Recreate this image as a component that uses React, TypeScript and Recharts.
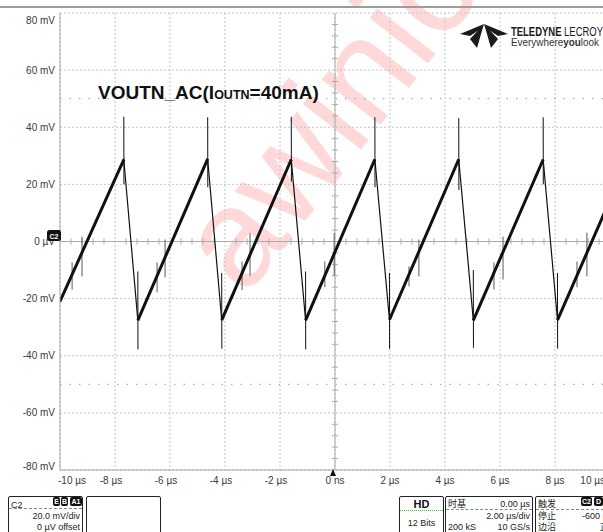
import React from "react";
import { LineChart, Line, XAxis, YAxis, CartesianGrid, ReferenceLine } from "recharts";

const X_TICKS = [-10, -8, -6, -4, -2, 0, 2, 4, 6, 8, 10];
const X_LABELS = ["-10 µs", "-8 µs", "-6 µs", "-4 µs", "-2 µs", "0 ns", "2 µs", "4 µs", "6 µs", "8 µs", "10 µs"];
const Y_TICKS = [80, 60, 40, 20, 0, -20, -40, -60, -80];
const Y_LABELS = ["80 mV", "60 mV", "40 mV", "20 mV", "0 µV", "-20 mV", "-40 mV", "-60 mV", "-80 mV"];

// sawtooth corners (µs, mV)
const startT = -10;
const startMv = -21;
const endT = 10;
const endMv = 14.5;
const peakT = [-7.68, -4.63, -1.59, 1.45, 4.5, 7.57];
const peakMv = [28.7, 28.9, 28.7, 28.8, 28.8, 28.7];
const troughT = [-7.17, -4.12, -1.07, 1.98, 5.03, 8.09];
const troughMv = [-27.6, -27.5, -27.6, -27.4, -27.6, -27.5];

// ringing at the corners
const peakSpikeHi = [43.7, 43.5, 43.7, 43.5, 43.2, 43.5];
const peakSpikeLo = [20, 19, 21, 19, 18, 20];
const troughSpikeHi = [-10.5, -11, -10.5, -11, -10, -11];
const troughSpikeLo = [-37.8, -37.5, -37.8, -37.6, -37.2, -37.5];

// short glitches on the ramps
const glitchT = [-9.56, -9.2, -6.47, -6.18, -3.38, -3.09, -0.37, -0.03, 2.69, 3.05, 5.78, 6.11, 8.8, 9.16];
const glitchHi = [-7.3, 1.7, -7.3, 0.7, -7, 3, -7, 3, -8.7, 0.7, -7.3, 1.7, -7, 3.1];
const glitchLo = [-16.8, -12.2, -17.8, -12.6, -17, -12, -16, -12, -15.7, -12.2, -16.8, -13.3, -16, -12.2];

type Pt = { t: number; v: number | null };

const wave: Pt[] = [{ t: startT, v: startMv }];
peakT.forEach((t, i) => {
  wave.push({ t, v: peakMv[i] });
  wave.push({ t: troughT[i], v: troughMv[i] });
});
wave.push({ t: endT, v: endMv });

// rising edges only, drawn thicker (noise band)
const ramps: Pt[] = [{ t: startT, v: startMv }];
peakT.forEach((t, i) => {
  ramps.push({ t, v: peakMv[i] });
  ramps.push({ t: t + 0.01, v: null });
  ramps.push({ t: troughT[i], v: troughMv[i] });
});
ramps.push({ t: endT, v: endMv });

const spikes: Pt[] = [];
peakT.forEach((t, i) => {
  spikes.push({ t, v: peakSpikeHi[i] }, { t: t + 0.005, v: peakSpikeLo[i] }, { t: t + 0.01, v: null });
  const tt = troughT[i];
  spikes.push({ t: tt, v: troughSpikeHi[i] }, { t: tt + 0.005, v: troughSpikeLo[i] }, { t: tt + 0.01, v: null });
});

const glitches: Pt[] = [];
glitchT.forEach((t, i) => {
  glitches.push({ t, v: glitchHi[i] }, { t: t + 0.001, v: glitchLo[i] }, { t: t + 0.002, v: null });
});

// center-cross minor ticks
const minorX: number[] = [];
for (let k = -25; k <= 25; k++) if (k % 5 !== 0) minorX.push(k * 0.4);
const minorY: number[] = [];
for (let k = -20; k <= 20; k++) if (k % 5 !== 0) minorY.push(k * 4);

const FONT = "'Liberation Sans', Arial, sans-serif";
const CJK = "'Liberation Sans', 'Noto Sans CJK SC', sans-serif";

const XTick = (p: any) => {
  const v = p.payload.value;
  const i = X_TICKS.indexOf(v);
  let anchor = "middle";
  let dx = 0;
  if (i === 0) {
    anchor = "start";
    dx = -2;
  } else if (i === X_TICKS.length - 1) {
    anchor = "end";
    dx = -5;
  } else if (v < 0) dx = -4;
  return (
    <text x={p.x + dx} y={p.y + 14} textAnchor={anchor} fontSize={10} fill="#3a3a3a" fontFamily={FONT}>
      {X_LABELS[i]}
    </text>
  );
};

const YTick = (p: any) => {
  const v = p.payload.value;
  const i = Y_TICKS.indexOf(v);
  const dy = v === 80 ? 7 : v === -80 ? -4 : 0;
  return (
    <text x={p.x} y={p.y + dy + 3.5} textAnchor="end" fontSize={10} fill="#3a3a3a" fontFamily={FONT}>
      {Y_LABELS[i]}
    </text>
  );
};

const box = (left: number, width: number): React.CSSProperties => ({
  position: "absolute",
  left,
  top: 496,
  width,
  height: 40,
  border: "1px solid #222",
  borderRadius: 2,
  boxSizing: "border-box",
  background: "#fff",
});

const badge = (left: number, w: number, text: string, top = 497) => (
  <div
    style={{
      position: "absolute",
      left,
      top,
      width: w,
      height: 9,
      background: "#111",
      color: "#fff",
      borderRadius: 2,
      fontSize: 7,
      lineHeight: "9px",
      textAlign: "center",
      fontWeight: 700,
    }}
  >
    {text}
  </div>
);

const txt = (left: number, top: number, s: string, extra: React.CSSProperties = {}) => (
  <div style={{ position: "absolute", left, top, fontSize: 9, lineHeight: "10px", color: "#222", whiteSpace: "nowrap", ...extra }}>
    {s}
  </div>
);

export default function App() {
  return (
    <div
      style={{
        position: "absolute",
        left: 0,
        top: 0,
        width: 603,
        height: 532,
        overflow: "hidden",
        background: "#fff",
        fontFamily: CJK,
      }}
    >
      {/* watermark */}
      <svg width={603} height={532} style={{ position: "absolute", left: 0, top: 0 }}>
        <text
          x={245}
          y={298}
          transform="rotate(-52 245 298)"
          fontSize={140}
          fill="#ff2020"
          fillOpacity={0.17}
          fontFamily={FONT}
        >
          awinic
        </text>
      </svg>

      <div style={{ position: "absolute", left: 0, top: 0 }}>
        <LineChart width={620} height={532} margin={{ top: 13, right: 10, bottom: 32, left: 0 }}>
          <CartesianGrid stroke="#c4c4c4" strokeDasharray="2 2" />
          <XAxis
            type="number"
            dataKey="t"
            domain={[-10, 10]}
            ticks={X_TICKS}
            allowDataOverflow
            height={30}
            tickSize={0}
            tickMargin={0}
            axisLine={{ stroke: "#a8a8a8" }}
            tick={<XTick />}
          />
          <YAxis
            type="number"
            domain={[-80, 80]}
            ticks={Y_TICKS}
            allowDataOverflow
            width={60}
            tickSize={0}
            tickMargin={5}
            axisLine={{ stroke: "#a8a8a8" }}
            tick={<YTick />}
          />
          <ReferenceLine y={50} stroke="#9a9a9a" strokeDasharray="1.5 8" />
          <ReferenceLine y={-50} stroke="#9a9a9a" strokeDasharray="1.5 8" />
          <ReferenceLine y={0} stroke="#ababab" />
          <ReferenceLine x={0} stroke="#ababab" />
          {minorX.map((t) => (
            <ReferenceLine key={"mx" + t} stroke="#ababab" segment={[{ x: t, y: -1.1 }, { x: t, y: 1.1 }]} />
          ))}
          {minorY.map((v) => (
            <ReferenceLine key={"my" + v} stroke="#ababab" segment={[{ x: -0.11, y: v }, { x: 0.11, y: v }]} />
          ))}
          <Line data={glitches} dataKey="v" type="linear" stroke="#5a5a5a" strokeWidth={1} dot={false} isAnimationActive={false} />
          <Line data={wave} dataKey="v" type="linear" stroke="#111" strokeWidth={1.2} dot={false} isAnimationActive={false} />
          <Line data={ramps} dataKey="v" type="linear" stroke="#111" strokeWidth={3} dot={false} isAnimationActive={false} />
          <Line data={spikes} dataKey="v" type="linear" stroke="#111" strokeWidth={1} dot={false} isAnimationActive={false} />
        </LineChart>
      </div>

      {/* frame, title, logo, markers */}
      <svg width={603} height={532} style={{ position: "absolute", left: 0, top: 0 }}>
        <rect x={0} y={6} width={603} height={2} fill="#9c9c9c" />
        <text x={98} y={98.5} fontSize={19} fontWeight={700} fill="#111" fontFamily={FONT}>
          VOUTN_AC(I
          <tspan fontSize={12.5}>OUTN</tspan>
          =40mA)
        </text>
        <g fill="#1a1a1a">
          <polygon points="484,24 460,34 470,36 479,30" />
          <polygon points="484,24 470,39 477,48 481,34" />
          <polygon points="484,24 498,39 491,48 487,34" />
          <polygon points="484,24 508,34 498,36 489,30" />
        </g>
        <text x={511} y={36} fontSize={12} fill="#1a1a1a" fontFamily={FONT} textLength={92} lengthAdjust="spacingAndGlyphs">
          <tspan fontWeight={700}>TELEDYNE</tspan> LECROY
        </text>
        <text x={511} y={46} fontSize={10.5} fill="#333" fontFamily={FONT} textLength={88} lengthAdjust="spacingAndGlyphs">
          Everywhere<tspan fontWeight={700}>you</tspan>look
        </text>
        <polygon points="333,469 330,476 336,476" fill="#111" />
        <rect x={47} y={230} width={14} height={11} rx={2.5} fill="#111" />
        <text x={54} y={238.5} fontSize={7} fontWeight={700} fill="#fff" textAnchor="middle" fontFamily={FONT}>
          C2
        </text>
      </svg>

      {/* bottom info panel */}
      <div style={box(8, 75)}>
        {txt(2, 3, "C2")}
        <div style={{ position: "absolute", left: 0, right: 0, top: 11, borderTop: "1px dashed #888" }} />
        {txt(0, 14, "20.0 mV/div", { right: 2, left: "auto" })}
        {txt(0, 25, "0 µV offset", { right: 2, left: "auto" })}
      </div>
      {badge(53, 7, "E")}
      {badge(61, 7, "B")}
      {badge(70, 12, "A1")}
      <div style={box(86, 75)} />

      <div style={box(399, 45)}>
        <div style={{ position: "absolute", left: 0, right: 0, top: 1, textAlign: "center", fontSize: 11, fontWeight: 700, color: "#111" }}>HD</div>
        <div style={{ position: "absolute", left: 0, right: 0, top: 13, borderTop: "1px dotted #3c3" }} />
        <div style={{ position: "absolute", left: 0, right: 0, top: 21, textAlign: "center", fontSize: 9, color: "#222" }}>12 Bits</div>
      </div>
      <div style={box(445, 88)}>
        {txt(2, 2, "时基")}
        {txt(0, 2, "0.00 µs", { right: 2, left: "auto" })}
        <div style={{ position: "absolute", left: 0, right: 0, top: 12, borderTop: "1px dashed #888" }} />
        {txt(0, 14, "2.00 µs/div", { right: 2, left: "auto" })}
        {txt(2, 25, "200 kS")}
        {txt(0, 25, "10 GS/s", { right: 2, left: "auto" })}
      </div>
      <div style={box(535, 80)}>
        {txt(2, 2, "触发")}
        <div style={{ position: "absolute", left: 0, right: 0, top: 12, borderTop: "1px dashed #888" }} />
        {txt(2, 14, "停止")}
        {txt(46, 14, "-600 µs")}
        {txt(2, 25, "边沿")}
        {txt(64, 25, "正")}
      </div>
      {badge(581, 11, "C2")}
      {badge(594, 9, "D")}
    </div>
  );
}
